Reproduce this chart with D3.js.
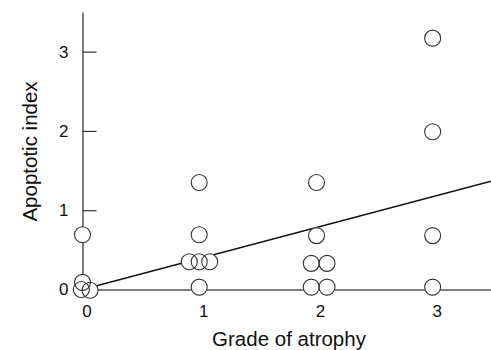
<!DOCTYPE html>
<html>
<head>
<meta charset="utf-8">
<script src="https://cdn.jsdelivr.net/npm/d3@7"></script>
<style>
  body { margin: 0; background: #fff; }
  svg text { font-family: "Liberation Sans", Arial, sans-serif; fill: #111; }
</style>
</head>
<body>
<div id="chart"></div>
<script>
'use strict';

// Data: grade of atrophy (slightly spread where points overlap) vs apoptotic index
var grades = [0, -0.01, 0.065, 0.915, 1.0, 1.09, 1.0, 1.0, 1.0, 1.96, 2.095, 1.96, 2.095, 2.005, 2.005, 3.0, 3.0, 3.0, 3.0];
var apoptoticIndex = [0.09, 0.0, -0.01, 0.35, 0.35, 0.35, 0.03, 0.69, 1.35, 0.03, 0.03, 0.33, 0.33, 0.68, 1.35, 0.03, 0.68, 1.99, 3.17];
var extraPoint = [0, 0.69];
var xTicks = [0, 1, 2, 3];
var yTicks = [0, 1, 2, 3];
var fitSlope = 0.39;
var fitIntercept = 0;

var points = grades.map(function(g, i){ return {grade: g, index: apoptoticIndex[i]} });
points.push({grade: extraPoint[0], index: extraPoint[1]});

var width = 491, height = 350;
var svg = d3.select('#chart').append('svg')
  .attr('width', width)
  .attr('height', height);

var x = d3.scaleLinear().domain([0, 3.5]).range([82.5, 491]);
var y = d3.scaleLinear().domain([0, 3.5]).range([289.5, 12]);

// Axes
var yAxis = d3.axisLeft(y).tickValues(yTicks).tickFormat(d3.format('d'))
  .tickSizeInner(-14).tickSizeOuter(0).tickPadding(14);
var xAxis = d3.axisBottom(x).tickValues(xTicks).tickFormat(d3.format('d'))
  .tickSize(0).tickPadding(15);

var gy = svg.append('g').attr('transform', 'translate(' + x(0) + ',0)').call(yAxis);
var gx = svg.append('g').attr('transform', 'translate(0,' + y(0) + ')').call(xAxis);

[gx, gy].forEach(function(g){
  g.select('.domain').attr('stroke', '#555').attr('stroke-width', 1.5);
  g.selectAll('.tick line').attr('stroke', '#333').attr('stroke-width', 1.2);
  g.selectAll('.tick text')
    .style('font-family', '"Liberation Sans", Arial, sans-serif')
    .attr('font-size', 17).attr('fill', '#111');
});
gx.selectAll('.tick text').attr('dx', 4);

// Regression line
var fit = d3.line()
  .x(function(d){ return x(d) })
  .y(function(d){ return y(fitIntercept + fitSlope * d) });
svg.append('path')
  .datum([0, 3.5])
  .attr('fill', 'none')
  .attr('stroke', '#111')
  .attr('stroke-width', 1.4)
  .attr('d', fit);

// Points: white fill first, outlines on top so overlaps stay visible
svg.append('g').selectAll('circle').data(points).join('circle')
  .attr('cx', function(d){ return x(d.grade) })
  .attr('cy', function(d){ return y(d.index) })
  .attr('r', 8)
  .attr('fill', '#fff');
svg.append('g').selectAll('circle').data(points).join('circle')
  .attr('cx', function(d){ return x(d.grade) })
  .attr('cy', function(d){ return y(d.index) })
  .attr('r', 8)
  .attr('fill', 'none')
  .attr('stroke', '#333')
  .attr('stroke-width', 1.1);

// Titles
svg.append('text')
  .attr('x', 289).attr('y', 346)
  .attr('text-anchor', 'middle')
  .attr('font-size', 20.5)
  .text('Grade of atrophy');

svg.append('text')
  .attr('transform', 'translate(36.5,151.5) rotate(-90)')
  .attr('text-anchor', 'middle')
  .attr('font-size', 20.5)
  .text('Apoptotic index');
</script>
</body>
</html>
